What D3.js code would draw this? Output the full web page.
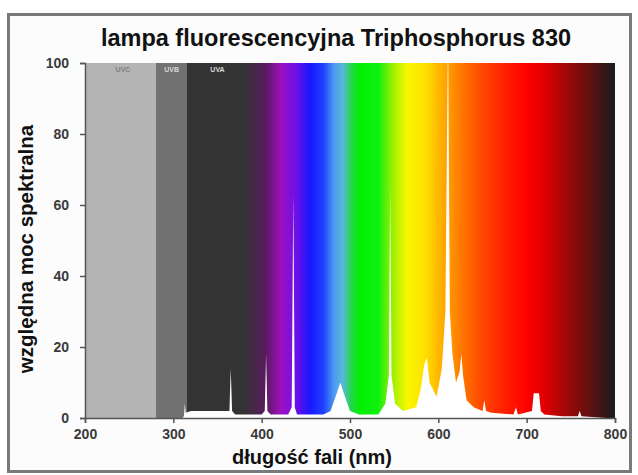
<!DOCTYPE html>
<html>
<head>
<meta charset="utf-8">
<script src="https://cdn.jsdelivr.net/npm/d3@7"></script>
<style>
  body { margin: 0; background: #fff; }
  svg { display: block; font-family: "Liberation Sans", Arial, sans-serif; }
</style>
</head>
<body>
<svg id="chart" width="638" height="475"></svg>
<script>
// wavelength (nm) and relative spectral power
const wavelengths = [200, 310, 312, 313, 314, 320, 360, 363.5, 365, 366.5, 370, 400, 403.5, 405, 406.5, 410,
  430, 434, 435.8, 437.5, 440, 470, 478, 485, 489, 493, 500, 510, 532, 540, 544, 545.5, 547, 551, 560,
  575, 580, 584, 587, 590, 594, 598, 604, 608, 611, 613, 616, 620, 624, 626, 628, 632, 640, 650, 652, 654,
  660, 685, 688, 690, 706, 708, 714, 716, 720, 740, 758, 760, 762, 790, 800];
const power = [0, 0, 0.5, 4, 1.5, 2, 2, 2, 14, 2, 1, 1, 2, 18, 2, 1,
  1, 3, 63, 3, 1, 1, 2, 7, 10, 7, 2, 1, 1, 4, 12, 66, 12, 4, 2,
  3, 8, 15, 17, 10, 8, 6, 14, 30, 110, 30, 18, 10, 13, 18, 12, 5, 3, 2, 5, 2,
  1.5, 1, 3, 1, 2, 7, 7, 2, 1, 0.5, 0.5, 2, 0.5, 0, 0];

const xTicks = [200, 300, 400, 500, 600, 700, 800];
const yTicks = [0, 20, 40, 60, 80, 100];

// UV bands and the colour of the background at given wavelengths
const bandNames = ['UVC', 'UVB', 'UVA'];
const bandCentres = [243, 298, 350];
const stopNm = [200, 280, 280, 315, 315, 380, 405, 422, 440, 455, 470, 482, 492, 502, 512, 532, 550,
  565, 585, 600, 625, 648, 675, 700, 720, 745, 772, 792, 800];
const stopColour = ['#b4b4b4', '#b4b4b4', '#727272', '#727272', '#323432', '#333333', '#5a1a60', '#a010c0',
  '#6a10e8', '#1818ff', '#2040ff', '#4c9cf0', '#58b8d8', '#20d840', '#00f000', '#10f010', '#a8f000',
  '#f8f800', '#ffe000', '#ffb800', '#ff7a00', '#ff4a00', '#ff2000', '#ff0000', '#e00000', '#a00808',
  '#601010', '#2a1818', '#1c1c1c'];

const margin = { top: 63, right: 23, bottom: 57, left: 85 };
const width = 638 - margin.left - margin.right;
const height = 475 - margin.top - margin.bottom;

const svg = d3.select('#chart');

// outer frame
svg.append('rect')
  .attr('x', 8.5)
  .attr('y', 14.5)
  .attr('width', 622)
  .attr('height', 457)
  .attr('fill', '#fcfcfc')
  .attr('stroke', '#7a7a7a')
  .attr('stroke-width', 3);

const x = d3.scaleLinear().domain([200, 800]).range([0, width]);
const y = d3.scaleLinear().domain([0, 100]).range([height, 0]);

const defs = svg.append('defs');
const grad = defs.append('linearGradient')
  .attr('id', 'spectrum')
  .attr('x1', '0%').attr('x2', '100%')
  .attr('y1', '0%').attr('y2', '0%');
stopNm.forEach((nm, i) => {
  grad.append('stop')
    .attr('offset', (x(nm) / width * 100) + '%')
    .attr('stop-color', stopColour[i]);
});

defs.append('clipPath')
  .attr('id', 'plotClip')
  .append('rect')
  .attr('width', width)
  .attr('height', height);

const g = svg.append('g')
  .attr('transform', `translate(${margin.left},${margin.top})`);

g.append('rect')
  .attr('width', width)
  .attr('height', height)
  .attr('fill', 'url(#spectrum)');

// band labels
g.selectAll('.band')
  .data(bandNames)
  .join('text')
  .attr('class', 'band')
  .attr('x', (d, i) => x(bandCentres[i]))
  .attr('y', 9)
  .attr('text-anchor', 'middle')
  .attr('font-size', 7)
  .attr('font-weight', 'bold')
  .attr('fill', (d, i) => i === 0 ? '#808080' : '#d8d8d8')
  .text(d => d);

// lamp spectrum in white
const spectrum = wavelengths.map((nm, i) => ({ nm: nm, v: power[i] }));
const area = d3.area()
  .x(d => x(d.nm))
  .y0(y(0))
  .y1(d => y(d.v));

g.append('path')
  .datum(spectrum)
  .attr('clip-path', 'url(#plotClip)')
  .attr('fill', '#ffffff')
  .attr('d', area);

// axes
const xAxis = g.append('g')
  .attr('transform', `translate(0,${height})`)
  .call(d3.axisBottom(x).tickValues(xTicks).tickSize(5).tickPadding(6));
const yAxis = g.append('g')
  .call(d3.axisLeft(y).tickValues(yTicks).tickSize(5).tickPadding(11));

[xAxis, yAxis].forEach(ax => {
  ax.select('.domain').attr('stroke', '#555').attr('stroke-width', 1.5);
  ax.selectAll('.tick line').attr('stroke', '#555').attr('stroke-width', 1.5);
  ax.selectAll('.tick text')
    .attr('font-family', '"Liberation Sans", Arial, sans-serif')
    .attr('font-size', 14)
    .attr('font-weight', 'bold')
    .attr('fill', '#3a3a3a');
});

// title and axis labels
svg.append('text')
  .attr('x', 336)
  .attr('y', 46)
  .attr('text-anchor', 'middle')
  .attr('font-size', 23.5)
  .attr('font-weight', 'bold')
  .attr('fill', '#111')
  .text('lampa fluorescencyjna Triphosphorus 830');

svg.append('text')
  .attr('x', 312)
  .attr('y', 464)
  .attr('text-anchor', 'middle')
  .attr('font-size', 20)
  .attr('font-weight', 'bold')
  .attr('fill', '#111')
  .text('długość fali (nm)');

svg.append('text')
  .attr('transform', 'translate(33,249) rotate(-90)')
  .attr('text-anchor', 'middle')
  .attr('font-size', 20.5)
  .attr('font-weight', 'bold')
  .attr('fill', '#111')
  .text('względna moc spektralna');
</script>
</body>
</html>
